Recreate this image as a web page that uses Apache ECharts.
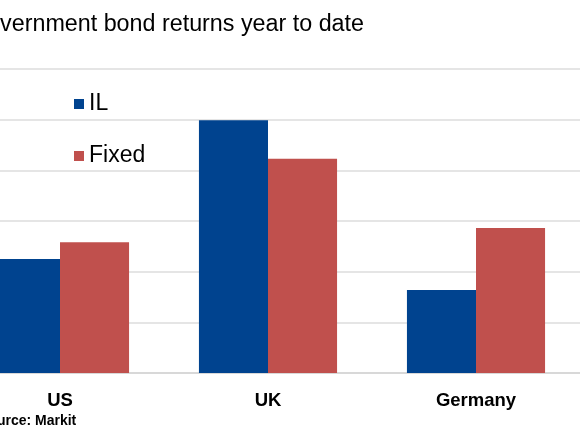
<!DOCTYPE html>
<html>
<head>
<meta charset="utf-8">
<script src="https://cdn.jsdelivr.net/npm/echarts@6/dist/echarts.min.js"></script>
<style>
  html, body { margin: 0; padding: 0; background: #fff; overflow: hidden; width: 580px; height: 435px; }
  /* 图表左侧被裁掉一部分，用负边距模拟 */
  #chart { width: 624px; height: 435px; margin-left: -44px; }
</style>
</head>
<body>
<div id="chart"></div>
<script>
// 数据
const countries = ['US', 'UK', 'Germany'];
const ilReturns = [2.25, 4.99, 1.64];
const fixedReturns = [2.58, 4.23, 2.86];
const seriesNames = ['IL', 'Fixed'];

const chart = echarts.init(document.getElementById('chart'));

const option = {
    animation: false,
    title: {
        text: 'Government bond returns year to date',
        left: 8,
        top: 8,
        textStyle: { fontFamily: 'Liberation Sans', fontSize: 23.3, fontWeight: 'normal', color: '#000' }
    },
    graphic: [{
        type: 'text',
        left: 23,
        top: 414,
        style: { text: 'Source: Markit', font: 'bold 14px "Liberation Sans"', fill: '#000' }
    }],
    legend: {
        orient: 'vertical',
        left: 113,
        top: 87,
        itemWidth: 10,
        itemHeight: 10,
        itemGap: 28,
        icon: 'rect',
        data: seriesNames,
        textStyle: { fontFamily: 'Liberation Sans', fontSize: 23, lineHeight: 24, color: '#000' }
    },
    grid: { left: 0, right: 0, top: 69, bottom: 62 },
    xAxis: {
        type: 'category',
        data: countries,
        axisLine: { lineStyle: { color: '#d4d4d4', width: 1.5 } },
        axisTick: { length: 6, lineStyle: { color: '#d4d4d4' } },
        axisLabel: { margin: 18, fontFamily: 'Liberation Sans', fontSize: 18.5, fontWeight: 'bold', color: '#000' }
    },
    yAxis: {
        type: 'value',
        min: 0,
        max: 6,
        interval: 1,
        axisLabel: { show: false },
        splitLine: { lineStyle: { color: '#dcdcdc', width: 1.5 } }
    },
    series: [
        { name: 'IL', type: 'bar', data: ilReturns, barGap: '0%', barCategoryGap: '33.6%', itemStyle: { color: '#00438f' } },
        { name: 'Fixed', type: 'bar', data: fixedReturns, itemStyle: { color: '#c0504d' } }
    ]
};

chart.setOption(option);
</script>
</body>
</html>
